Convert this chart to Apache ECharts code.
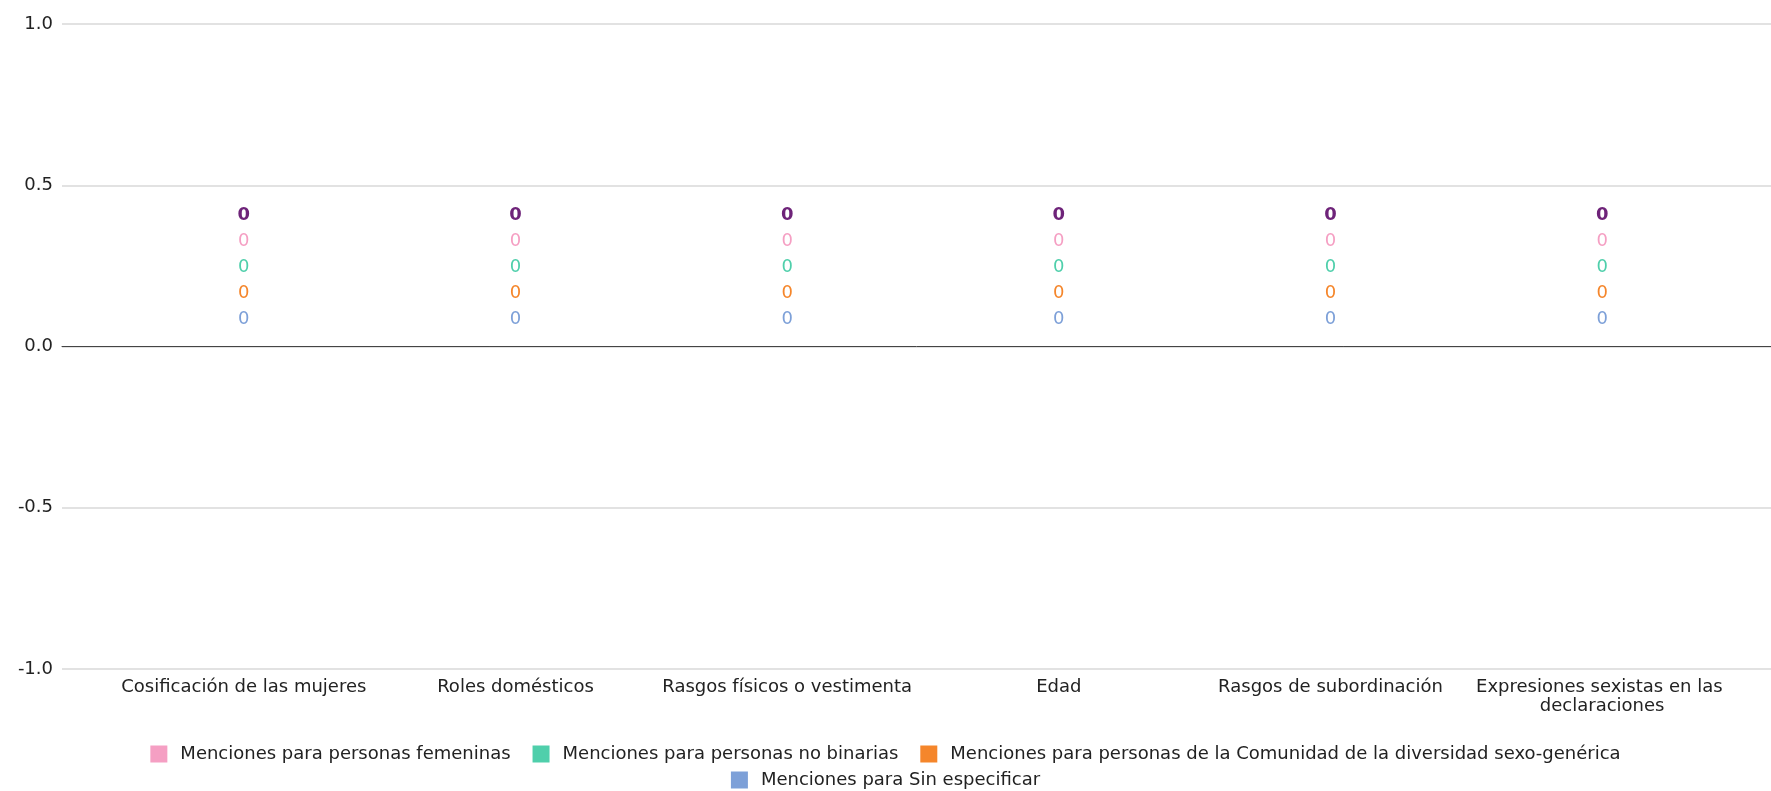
<!DOCTYPE html>
<html>
<head>
<meta charset="utf-8">
<script src="https://cdn.jsdelivr.net/npm/echarts@6/dist/echarts.min.js"></script>
<style>
html,body{margin:0;padding:0;background:#fff;}
#chart{width:1771px;height:791px;}
</style>
</head>
<body>
<div id="chart"></div>
<script>
const categories = ["Cosificación de las mujeres","Roles domésticos","Rasgos físicos o vestimenta","Edad","Rasgos de subordinación","Expresiones sexistas en las declaraciones"];
const seriesNames = ["Menciones para personas femeninas","Menciones para personas no binarias","Menciones para personas de la Comunidad de la diversidad sexo-genérica","Menciones para Sin especificar"];
const femeninas = [0,0,0,0,0,0];
const noBinarias = [0,0,0,0,0,0];
const diversidad = [0,0,0,0,0,0];
const sinEspecificar = [0,0,0,0,0,0];
const yTicks = [-1, -0.5, 0, 0.5, 1];

const colors = ["#f59fc3","#4fcfab","#f5862b","#7da0d8"];
const totalColor = "#6e2379";
const values = [femeninas, noBinarias, diversidad, sinEspecificar];
const totals = categories.map((c,i)=>values.reduce((s,a)=>s+a[i],0));
const FONT = "DejaVu Sans";
const FS = 18;
const labelOffsets = [-91,-65,-39,-13];

const chart = echarts.init(document.getElementById('chart'), null, {renderer:'canvas'});

const series = values.map((arr, k) => ({
  name: seriesNames[k],
  type: 'bar',
  stack: 'total',
  xAxisIndex: 1,
  yAxisIndex: 1,
  data: arr,
  itemStyle: {color: colors[k]},
  barWidth: '60%',
  label: {
    show: true,
    position: 'top',
    offset: [0, labelOffsets[k]],
    color: colors[k],
    fontFamily: FONT,
    fontSize: FS
  }
}));
series.push({
  name: 'Total',
  type: 'bar',
  stack: 'total',
  xAxisIndex: 1,
  yAxisIndex: 1,
  data: totals,
  itemStyle: {color: totalColor},
  label: {
    show: true,
    position: 'top',
    offset: [0, -117],
    color: totalColor,
    fontWeight: 'bold',
    fontFamily: FONT,
    fontSize: FS
  }
});

const legendBase = {
  left: 'center',
  icon: 'rect',
  itemWidth: 17,
  itemHeight: 17,
  itemGap: 22,
  textStyle: {fontFamily: FONT, fontSize: FS, color: '#222', padding: [0,0,0,8]}
};

chart.setOption({
  animation: false,
  textStyle: {fontFamily: FONT},
  grid: [
    {left: 62, right: 0, top: 24, bottom: 122},
    {left: 108, right: 33, top: 24, bottom: 122}
  ],
  legend: [
    Object.assign({data: seriesNames.slice(0,3), top: 740}, legendBase),
    Object.assign({data: seriesNames.slice(3), top: 766}, legendBase)
  ],
  xAxis: [
    {
      gridIndex: 0,
      type: 'value',
      min: 0, max: 1,
      axisLine: {show: true, onZero: true, lineStyle: {color: '#444', width: 1}},
      axisTick: {show: false},
      axisLabel: {show: false},
      splitLine: {show: false}
    },
    {
      gridIndex: 1,
      type: 'category',
      data: categories,
      axisLine: {show: false, onZero: false},
      axisTick: {show: false},
      axisLabel: {
        interval: 0,
        margin: 9,
        width: 264,
        overflow: 'break',
        color: '#222',
        fontFamily: FONT,
        fontSize: FS,
        lineHeight: 19
      },
      splitLine: {show: false}
    }
  ],
  yAxis: [
    {
      gridIndex: 0,
      type: 'value',
      min: yTicks[0],
      max: yTicks[yTicks.length-1],
      interval: 0.5,
      axisLine: {show: false},
      axisTick: {show: false},
      axisLabel: {
        margin: 9,
        color: '#222',
        fontFamily: FONT,
        fontSize: FS,
        formatter: v => v.toFixed(1)
      },
      splitLine: {show: true, lineStyle: {color: '#d9d9d9', width: 1.5}}
    },
    {
      gridIndex: 1,
      type: 'value',
      min: yTicks[0],
      max: yTicks[yTicks.length-1],
      interval: 0.5,
      show: false,
      splitLine: {show: false}
    }
  ],
  series: series
});
</script>
</body>
</html>
